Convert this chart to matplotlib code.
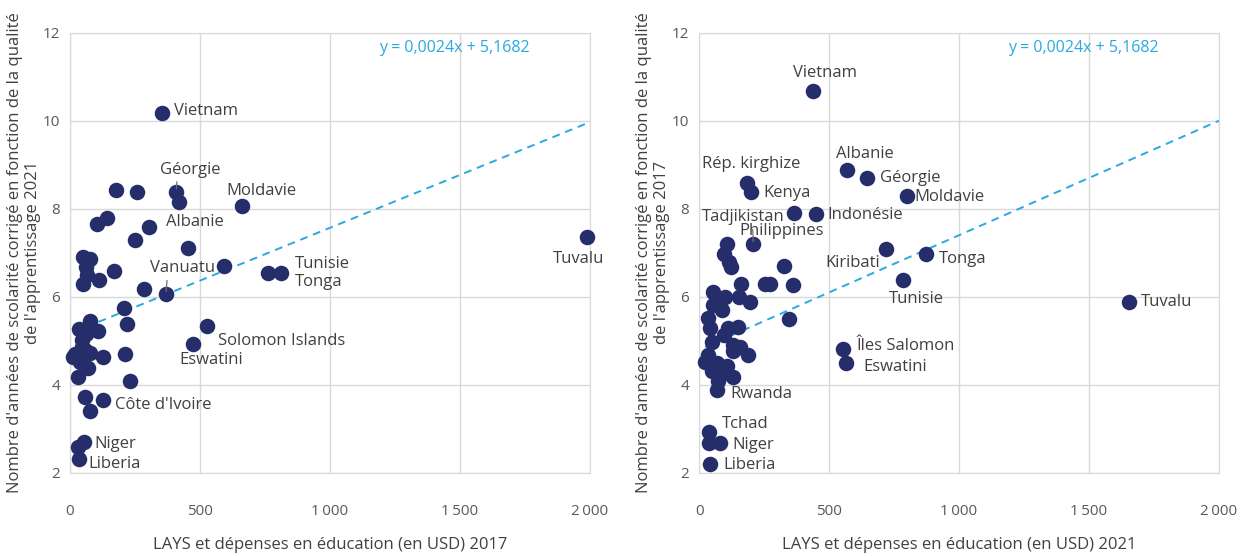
import matplotlib
matplotlib.use("Agg")
import matplotlib.pyplot as plt
import numpy as np

# --- données ---
# panneau gauche : LAYS 2017 (x) / années corrigées 2021 (y)
x17 = [354, 408, 420, 660, 304, 177, 258, 105, 141, 251, 453, 594, 760, 812,
       1990, 369, 285, 49, 77, 62, 64, 51, 112, 170, 209, 218, 77, 36, 109,
       45, 60, 58, 13, 77, 126, 38, 70, 32, 45, 20, 213, 230, 59, 128, 78,
       54, 32, 36, 474, 528]
y21 = [10.18, 8.39, 8.16, 8.06, 7.59, 8.43, 8.37, 7.66, 7.80, 7.28, 7.10, 6.69,
       6.55, 6.55, 7.37, 6.06, 6.17, 6.90, 6.87, 6.68, 6.50, 6.29, 6.39, 6.59,
       5.74, 5.39, 5.46, 5.27, 5.23, 5.02, 5.15, 4.80, 4.64, 4.72, 4.64, 4.53,
       4.38, 4.19, 4.85, 4.70, 4.70, 4.10, 3.73, 3.66, 3.41, 2.71, 2.60, 2.31,
       4.93, 5.34]
noms_g = {0: "Vietnam", 1: "Géorgie", 3: "Moldavie", 4: "Albanie", 12: "Tunisie",
          13: "Tonga", 14: "Tuvalu", 15: "Vanuatu", 49: "Solomon Islands",
          48: "Eswatini", 43: "Côte d'Ivoire", 45: "Niger", 47: "Liberia"}

# panneau droit : LAYS 2021 (x) / années corrigées 2017 (y)
x21 = [440, 568, 646, 799, 449, 367, 209, 183, 201, 719, 872, 786, 1654, 553,
       565, 328, 363, 254, 273, 347, 162, 106, 97, 115, 123, 53, 100, 155, 196,
       55, 87, 36, 42, 113, 151, 94, 49, 132, 158, 132, 190, 36, 23, 68, 106,
       49, 94, 132, 74, 70, 40, 40, 81, 42]
y17 = [10.67, 8.88, 8.69, 8.28, 7.88, 7.90, 7.19, 8.58, 8.39, 7.08, 6.98, 6.39,
       5.89, 4.81, 4.50, 6.69, 6.28, 6.30, 6.30, 5.49, 6.30, 7.20, 6.98, 6.79,
       6.68, 6.10, 6.00, 6.00, 5.89, 5.81, 5.70, 5.51, 5.29, 5.29, 5.32, 5.14,
       4.98, 4.91, 4.87, 4.76, 4.68, 4.68, 4.53, 4.50, 4.42, 4.31, 4.27, 4.19,
       4.08, 3.89, 2.92, 2.69, 2.69, 2.20]
noms_d = {0: "Vietnam", 1: "Albanie", 2: "Géorgie", 3: "Moldavie", 4: "Indonésie",
          5: "Philippines", 6: "Tadjikistan", 7: "Rép. kirghize", 8: "Kenya",
          9: "Kiribati", 10: "Tonga", 11: "Tunisie", 12: "Tuvalu",
          13: "Îles Salomon", 14: "Eswatini", 49: "Rwanda", 50: "Tchad",
          52: "Niger", 53: "Liberia"}

# droites de tendance (pente, ordonnée) et texte affiché
tend_g = (0.0024, 5.1682)
tend_d = (0.0026, 4.80)
equation = "y = 0,0024x + 5,1682"

xticks = [0, 500, 1000, 1500, 2000]
xticklabels = ["0", "500", "1\u2009000", "1\u2009500", "2\u2009000"]
yticks = [2, 4, 6, 8, 10, 12]

# placement des étiquettes (décalage en pixels, alignement, relpos du trait)
place_g = {
    "Vietnam": (12, 2, "left", None), "Géorgie": (14, 22, "center", 0.29),
    "Moldavie": (20, 15, "center", None), "Albanie": (17, 5, "left", None),
    "Tunisie": (27, 9, "left", None), "Tonga": (14, -9, "left", None),
    "Tuvalu": (-9, -22, "center", None), "Vanuatu": (17, 26, "center", 0.26),
    "Solomon Islands": (11, -15, "left", None), "Eswatini": (18, -16, "center", None),
    "Côte d'Ivoire": (12, -5, "left", None), "Niger": (10, -2, "left", None),
    "Liberia": (9, -5, "left", None),
}
place_d = {
    "Vietnam": (12, 18, "center", None), "Albanie": (18, 16, "center", None),
    "Géorgie": (13, 0, "left", None), "Moldavie": (8, -1, "left", None),
    "Indonésie": (12, -1, "left", None), "Philippines": (-13, -18, "center", None),
    "Tadjikistan": (-10, 27, "center", 0.61), "Rép. kirghize": (5, 19, "center", None),
    "Kenya": (12, -1, "left", None), "Kiribati": (-33, -14, "center", None),
    "Tonga": (13, -5, "left", None), "Tunisie": (13, -19, "center", None),
    "Tuvalu": (12, 0, "left", None), "Îles Salomon": (14, 3, "left", None),
    "Eswatini": (17, -4, "left", None), "Rwanda": (13, -4, "left", None),
    "Tchad": (12, 8, "left", None), "Niger": (12, -2, "left", None),
    "Liberia": (13, -1, "left", None),
}

plt.rcParams['font.family'] = ['Open Sans', 'DejaVu Sans']
bleu_fonce = '#262d6b'
bleu_clair = '#29a9e1'
gris_grille = '#d9d9d9'
gris_texte = '#404040'

fig = plt.figure(figsize=(12.43, 5.56), dpi=100)
ax1 = fig.add_axes([0.0563, 0.1493, 0.4183, 0.792])
ax2 = fig.add_axes([0.5624, 0.1493, 0.4183, 0.792])


def panneau(ax, xs, ys, noms, place, tend, xlab, ylab):
    a, b = tend
    xt = np.array([min(xs), 2000])
    ax.plot(xt, a * xt + b, ls=(0, (4, 3)), color=bleu_clair, lw=1.4, zorder=2)
    ax.scatter(xs, ys, s=125, color=bleu_fonce, zorder=3, clip_on=False,
               linewidths=0)
    for i, nom in noms.items():
        dx, dy, ha, rel = place[nom]
        kw = {}
        if rel is not None:
            kw['arrowprops'] = dict(arrowstyle='-', color='#707070', lw=0.9,
                                    relpos=(rel, 0), shrinkA=1, shrinkB=2)
        ax.annotate(nom, (xs[i], ys[i]), xytext=(dx, dy),
                    textcoords='offset pixels', ha=ha, va='center',
                    fontsize=12, color=gris_texte, zorder=4, **kw)
    ax.set_xlim(0, 2000)
    ax.set_ylim(2, 12)
    ax.set_xticks(xticks)
    ax.set_xticklabels(xticklabels)
    ax.set_yticks(yticks)
    ax.grid(True, color=gris_grille, lw=1)
    ax.set_axisbelow(True)
    for sp in ax.spines.values():
        sp.set_color(gris_grille)
    ax.tick_params(length=0, labelsize=11, labelcolor='#595959')
    ax.tick_params(axis='x', pad=22)
    ax.tick_params(axis='y', pad=7)
    ax.set_xlabel(xlab, fontsize=12, color=gris_texte, labelpad=13)
    ax.set_ylabel(ylab, fontsize=12, color=gris_texte, labelpad=1)
    ax.text(0.74, 0.965, equation, transform=ax.transAxes, ha='center',
            va='center', fontsize=11.5, color=bleu_clair)


panneau(ax1, x17, y21, noms_g, place_g, tend_g,
        "LAYS et dépenses en éducation (en USD) 2017",
        "Nombre d'années de scolarité corrigé en fonction de la qualité\nde l'apprentissage 2021")
panneau(ax2, x21, y17, noms_d, place_d, tend_d,
        "LAYS et dépenses en éducation (en USD) 2021",
        "Nombre d'années de scolarité corrigé en fonction de la qualité\nde l'apprentissage 2017")

fig.savefig("out.png", dpi=100)
